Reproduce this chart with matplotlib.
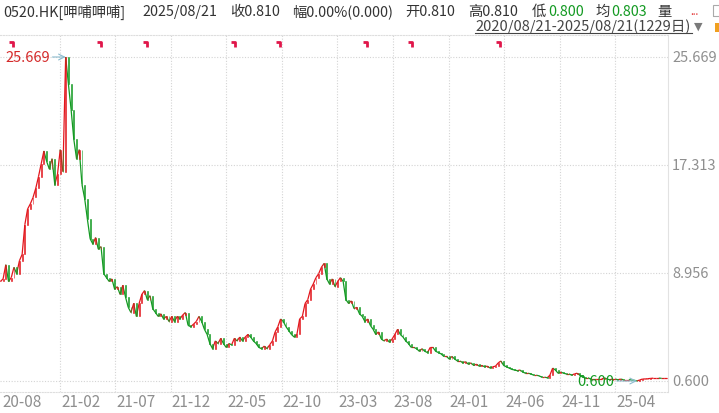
import numpy as np
import pandas as pd
import matplotlib
matplotlib.use('Agg')
import matplotlib.pyplot as plt
import matplotlib.dates as mdates
from matplotlib.lines import Line2D
from matplotlib.patches import Rectangle
from matplotlib.collections import LineCollection
from matplotlib.transforms import blended_transform_factory

plt.rcParams['font.family'] = ['Noto Sans CJK SC', 'DejaVu Sans']

# weekly closes, 2020/08/21 -> 2025/08/21
close = [
    8.3, 8.5, 9.6, 8.3, 8.6, 9.4, 8.9, 9.9, 10.4, 12.7,
    13.9, 14.3, 14.8, 15.5, 16.4, 17.4, 18.4, 17.6, 17.0, 17.8,
    15.8, 16.6, 18.5, 16.8, 25.669, 23.6, 21.6, 19.3, 17.8, 18.5,
    15.8, 14.7, 13.1, 11.6, 11.2, 11.7, 10.8, 11.0, 8.9, 8.6,
    8.3, 8.5, 7.7, 7.9, 7.3, 8.0, 7.1, 6.3, 5.9, 6.6,
    5.6, 6.6, 7.3, 7.6, 6.9, 7.2, 6.2, 5.9, 5.6, 5.8,
    5.4, 5.6, 5.2, 5.6, 5.2, 5.6, 5.4, 5.7, 5.9, 4.9,
    4.8, 5.0, 5.2, 5.6, 5.2, 4.6, 4.2, 3.5, 3.1, 3.7,
    3.5, 3.9, 3.5, 3.2, 3.5, 3.4, 3.9, 3.7, 4.0, 3.7,
    4.0, 4.2, 4.0, 3.7, 3.5, 3.2, 3.1, 3.3, 3.1, 3.4,
    3.7, 4.4, 4.8, 5.4, 5.2, 4.8, 4.5, 4.2, 4.0, 4.2,
    5.4, 5.6, 6.6, 6.9, 7.7, 8.1, 8.6, 8.9, 9.4, 9.7,
    8.5, 8.1, 8.5, 7.9, 8.3, 8.6, 8.3, 6.9, 6.6, 6.8,
    6.2, 6.3, 5.8, 5.6, 5.2, 5.4, 4.9, 4.6, 4.2, 4.4,
    3.85, 3.7, 3.85, 3.6, 3.85, 4.2, 4.6, 4.2, 4.0, 3.7,
    3.5, 3.2, 3.2, 3.1, 2.9, 3.1, 2.9, 2.8, 3.2, 3.2,
    2.9, 2.8, 2.7, 2.5, 2.5, 2.3, 2.5, 2.3, 2.15, 2.15,
    2.0, 2.1, 1.9, 2.0, 1.8, 1.9, 1.75, 1.8, 1.7, 1.75,
    1.6, 1.7, 1.75, 2.0, 2.15, 1.8, 1.7, 1.6, 1.5, 1.45,
    1.4, 1.45, 1.3, 1.2, 1.2, 1.15, 1.05, 1.05, 1.0, 0.9,
    0.9, 0.85, 1.05, 1.6, 1.45, 1.2, 1.3, 1.2, 1.15, 1.15,
    1.05, 1.15, 1.2, 1.05, 0.9, 0.85, 0.85, 0.75, 0.75, 0.75,
    0.75, 0.75, 0.85, 0.75, 0.7, 0.75, 0.75, 0.7, 0.75, 0.7,
    0.7, 0.7, 0.68, 0.66, 0.6, 0.68, 0.75, 0.76, 0.78, 0.8,
    0.82, 0.82, 0.82, 0.81, 0.81, 0.81,
]
start, end = '2020-08-21', '2025-08-21'

month_ticks = ['2021-02-01', '2021-07-01', '2021-12-01', '2022-05-01',
               '2022-10-01', '2023-03-01', '2023-08-01', '2024-01-01',
               '2024-06-01', '2024-11-01', '2025-04-01']
month_labels = ['21-02', '21-07', '21-12', '22-05', '22-10', '23-03',
                '23-08', '24-01', '24-06', '24-11', '25-04']
first_label = '20-08'

# dividend / event flags along the top
events = ['2020-09-25', '2021-05-25', '2021-09-27', '2022-05-26',
          '2022-09-26', '2023-05-23', '2023-09-22', '2024-05-21']

RED = '#e3161c'
GREEN = '#139a22'
GRID = '#d4d4d4'
AXTXT = '#8f8f8f'

fig = plt.figure(figsize=(7.19, 4.14), dpi=100)
ax = fig.add_axes([0, 21/414, 668/719, 357/414])

dates = pd.date_range(start, end, periods=len(close))
x = mdates.date2num(dates)
c = np.array(close)
o = np.r_[c[0], c[:-1]]
col = np.where(c >= o, RED, GREEN)

# thin price trace + small candle bodies
segs = np.stack([np.c_[x[:-1], c[:-1]], np.c_[x[1:], c[1:]]], axis=1)
ax.add_collection(LineCollection(segs, colors=col[1:], linewidths=0.9, zorder=3))
ax.bar(x, c - o, bottom=o, width=2.4, color=col, edgecolor=col,
       linewidth=0.4, zorder=3)

lo, hi = c.min(), c.max()
k = (hi - lo) / 324.0
ax.set_ylim(lo - 11 * k, hi + 22 * k)
ax.set_xlim(x[0] - 1, mdates.date2num(pd.Timestamp(end)) + 3)

# grid
levels = np.linspace(lo, hi, 4)
for v in levels:
    ax.axhline(v, color=GRID, lw=0.8, ls=(0, (1, 1.5)), zorder=1)
mt = mdates.date2num(pd.to_datetime(month_ticks))
for m in mt:
    ax.axvline(m, color=GRID, lw=0.8, ls=(0, (1, 1.5)), zorder=1)

ax.spines['left'].set_visible(False)
for s in ['top', 'bottom']:
    ax.spines[s].set_color('#dedede')
    ax.spines[s].set_linestyle((0, (1, 1.5)))
    ax.spines[s].set_linewidth(0.8)
ax.spines['right'].set_color('#e2e2e2')
ax.spines['right'].set_linewidth(0.8)
ax.set_xticks([])
ax.set_yticks([])

# right axis labels
rt = blended_transform_factory(ax.transAxes, ax.transData)
for v in levels:
    ax.text(1.006, v, '%.3f' % v, transform=rt, ha='left', va='center',
            color=AXTXT, fontsize=10.5)

# bottom month labels
bt = blended_transform_factory(ax.transData, fig.transFigure)
ax.text(x[0] + 7, 11/414, first_label, transform=bt, ha='left', va='center',
        color=AXTXT, fontsize=11)
for m, lab in zip(mt, month_labels):
    ax.text(m + 3, 11/414, lab, transform=bt, ha='left', va='center',
            color=AXTXT, fontsize=11)

# event flags
ev = mdates.date2num(pd.to_datetime(events))
ytop, ybot = hi + 15 * k, hi + 10 * k
for e in ev:
    ax.plot([e - 11, e, e], [ytop, ytop, ybot], color='#e0164a', lw=2,
            solid_capstyle='butt', zorder=4, clip_on=False)

# max / min annotation
imax, imin = int(np.argmax(c)), int(np.argmin(c))
ax.annotate('%.3f' % hi, xy=(x[imax], hi), xytext=(-16, 0), textcoords='offset pixels',
            ha='right', va='center', color='#d42a2a', fontsize=10.5,
            arrowprops=dict(arrowstyle='->', color='#8cbccf', lw=0.8,
                            shrinkA=0, shrinkB=0))
ax.annotate('%.3f' % lo, xy=(x[imin], lo), xytext=(-23, 0), textcoords='offset pixels',
            ha='right', va='center', color=GREEN, fontsize=10.5,
            arrowprops=dict(arrowstyle='->', color='#8cbccf', lw=0.8,
                            shrinkA=0, shrinkB=0))

# header
hy = 1 - 12/414
dark = '#333333'
fs = 10.3
fig.text(3/719, hy, '0520.HK[呷哺呷哺]', color=dark, fontsize=fs, va='center')
fig.text(142/719, hy, '2025/08/21', color=dark, fontsize=fs, va='center')
fig.text(230/719, hy, '收0.810', color=dark, fontsize=fs, va='center')
fig.text(292/719, hy, '幅0.00%(0.000)', color=dark, fontsize=fs, va='center')
fig.text(405/719, hy, '开0.810', color=dark, fontsize=fs, va='center')
fig.text(468/719, hy, '高0.810', color=dark, fontsize=fs, va='center')
fig.text(532/719, hy, '低', color=dark, fontsize=fs, va='center')
fig.text(548/719, hy, '0.800', color=GREEN, fontsize=fs, va='center')
fig.text(595/719, hy, '均', color=dark, fontsize=fs, va='center')
fig.text(611/719, hy, '0.803', color=GREEN, fontsize=fs, va='center')
fig.text(657/719, hy, '量', color=dark, fontsize=fs, va='center')
fig.text(690/719, hy, '...', color='#e02020', fontsize=7, va='center')
fig.patches.append(Rectangle((713/719, 1 - 17/414), 8/719, 11/414, transform=fig.transFigure,
                             fill=False, ec='#aaaaaa', lw=0.8))

ry = 1 - 27/414
fig.text(475/719, ry, '2020/08/21-2025/08/21(1229日)', color='#444444', fontsize=10.5,
         va='center')
fig.lines.append(Line2D([475/719, 692/719], [1 - 34/414, 1 - 34/414], transform=fig.transFigure,
                        color='#444444', lw=0.8))
fig.text(694/719, ry, '▼', color='#7a7a7a', fontsize=8, va='center', family='DejaVu Sans')
fig.patches.append(Rectangle((715/719, 1 - 33/414), 5/719, 9/414, transform=fig.transFigure,
                             color='#f0a020', lw=0))

fig.savefig('out.png', dpi=100)
